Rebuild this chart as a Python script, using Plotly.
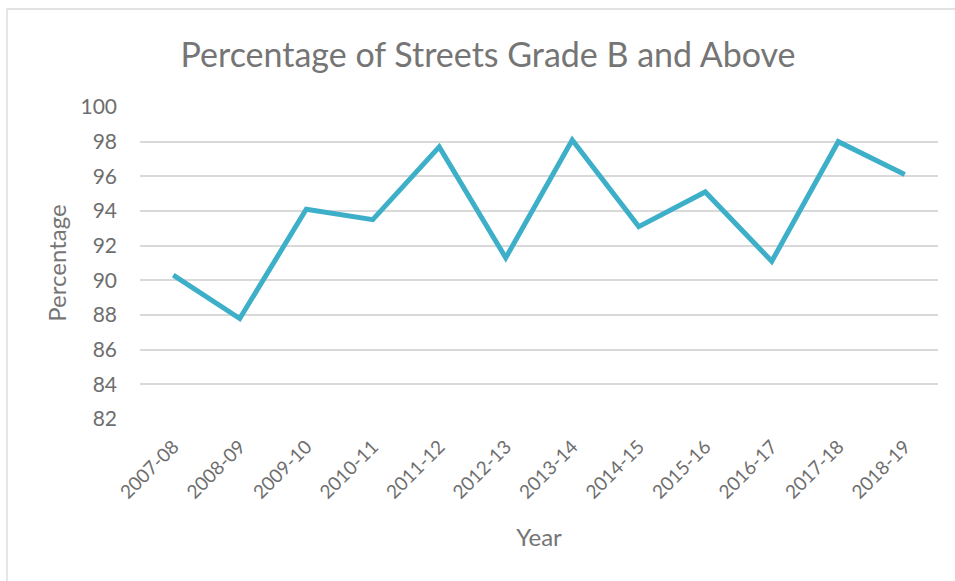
import plotly.graph_objects as go

years = ["2007-08", "2008-09", "2009-10", "2010-11", "2011-12", "2012-13",
         "2013-14", "2014-15", "2015-16", "2016-17", "2017-18", "2018-19"]
percentage = [90.3, 87.8, 94.1, 93.5, 97.7, 91.3, 98.1, 93.1, 95.1, 91.1, 98.0, 96.1]
y_ticks = [82, 84, 86, 88, 90, 92, 94, 96, 98, 100]

FONT = "Lato"
GREY = "#757575"
TICK = "#6E6E6E"

W, H = 955, 581
L, R, T, B = 140, 17, 107, 162
PW, PH = W - L - R, H - T - B

fig = go.Figure()
fig.add_trace(go.Scatter(
    x=years, y=percentage, mode="lines",
    line=dict(color="#3DAFC8", width=5),
    hoverinfo="x+y",
))

fig.update_layout(
    width=W, height=H,
    margin=dict(l=L, r=R, t=T, b=B),
    paper_bgcolor="white", plot_bgcolor="white",
    showlegend=False,
    title=dict(text="Percentage of Streets Grade B and Above",
               x=0.511, xanchor="center", y=1 - 55 / H, yanchor="middle",
               font=dict(family=FONT, size=34, color=GREY)),
    font=dict(family=FONT, color=GREY),
    xaxis=dict(
        type="category", range=[-0.5, 11.5],
        tickangle=-45, tickfont=dict(size=19, color=TICK),
        showgrid=False, zeroline=False, showline=False,
        ticks="", ticklabelstandoff=12,
        title=dict(text="Year", font=dict(size=24, color=GREY), standoff=27),
    ),
    yaxis=dict(
        range=[82, 100], tickvals=y_ticks,
        tickfont=dict(size=21, color=TICK),
        showgrid=True, gridcolor="#D9D9D9", gridwidth=1.5,
        zeroline=False, showline=False, ticks="", ticklabelstandoff=22,
        title=dict(text="Percentage", font=dict(size=24, color=GREY), standoff=7),
    ),
    shapes=[dict(type="rect", xref="paper", yref="paper",
                 x0=(7 - L) / PW, x1=(W + 40 - L) / PW,
                 y0=(H - B - (H + 40)) / PH, y1=(H - B - 9) / PH,
                 line=dict(color="#D9D9D9", width=1.3), layer="below")],
)

fig.write_html("out.html", config={"displayModeBar": False},
               post_script="document.body.style.margin='0';")
